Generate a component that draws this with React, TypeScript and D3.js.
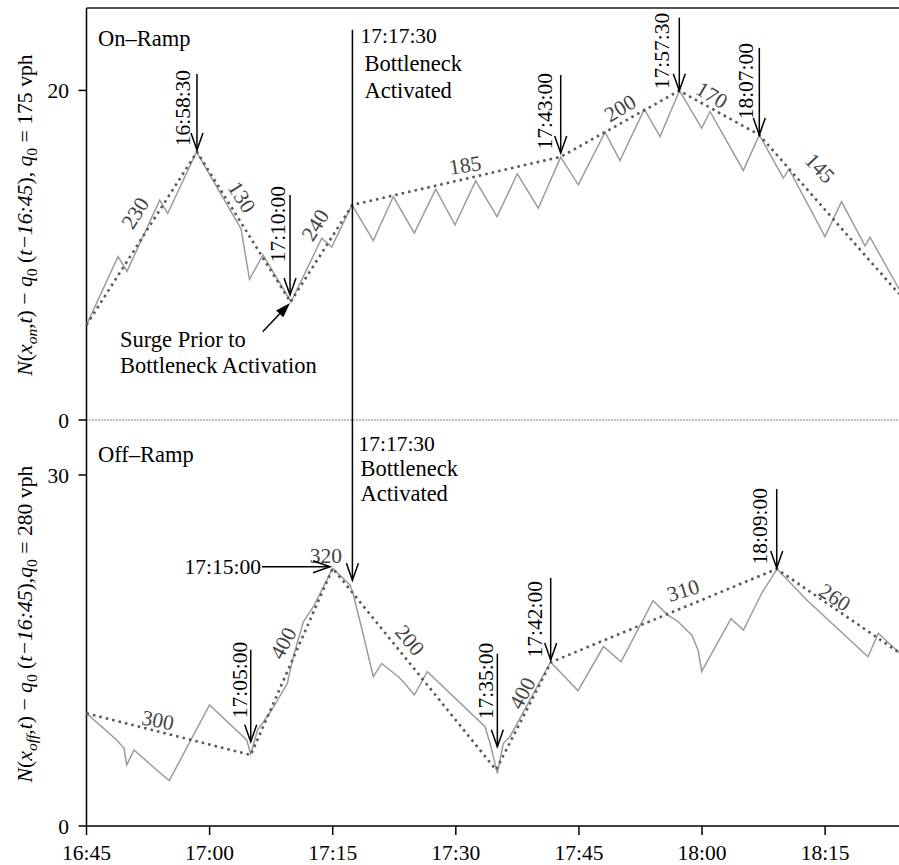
import React, { useEffect } from "react";
import * as d3 from "d3";

// ---------- data (time in minutes after 16:45, values in vehicles) ----------
const timeTicks = [0, 15, 30, 45, 60, 75, 90];
const timeTickLabels = ["16:45", "17:00", "17:15", "17:30", "17:45", "18:00", "18:15"];
const onRampTicks = [0, 20];
const offRampTicks = [0, 30];

const onRampObsT = [0, 3.84, 4.93, 8.92, 9.89, 13.4, 18.83, 19.86, 21.5, 24.92, 28.66, 29.88, 32.35, 34.95, 37.38, 39.94, 42.55, 44.9, 47.42, 50.02, 52.49, 55.05, 57.78, 59.92, 63.18, 65.0, 67.97, 69.88, 72.25, 74.96, 75.97, 80.03, 81.98, 84.9, 85.6, 89.98, 92.0, 94.86, 95.47, 99];
const onRampObsN = [5.77, 9.92, 9.02, 13.34, 12.53, 16.27, 11.6, 8.54, 10.02, 7.16, 11.03, 10.49, 13.05, 10.89, 13.56, 11.34, 14.01, 11.84, 14.51, 12.34, 14.94, 12.85, 15.95, 14.27, 17.47, 15.74, 18.86, 17.2, 19.98, 17.71, 18.72, 15.14, 17.3, 14.68, 15.22, 11.13, 13.25, 10.56, 11.09, 7.95];
const onRampFitT = [0, 13.46, 24.85, 32.4, 57.78, 72.23, 81.98, 99];
const onRampFitN = [5.77, 16.27, 7.16, 13.05, 15.97, 19.98, 17.3, 7.65];

const offRampObsT = [0, 3.68, 4.57, 4.9, 5.79, 8.55, 10.09, 14.99, 19.52, 20.01, 20.84, 22.57, 24.47, 25.2, 26.42, 27.64, 30.0, 32.1, 32.47, 33.53, 34.95, 35.97, 37.99, 38.6, 39.94, 41.53, 48.56, 49.17, 50.06, 50.79, 51.6, 56.54, 59.89, 62.99, 65.13, 69.03, 70.85, 72.11, 73.78, 74.51, 74.96, 78.53, 80.05, 82.27, 84.14, 87.76, 95.22, 96.48, 99];
const offRampObsN = [9.63, 7.35, 6.64, 5.21, 6.5, 4.79, 3.89, 10.34, 7.35, 6.15, 8.2, 9.91, 12.2, 14.47, 17.46, 18.74, 22.03, 20.6, 19.89, 16.9, 12.76, 13.89, 12.76, 12.33, 11.2, 13.19, 8.49, 7.07, 4.5, 7.07, 7.63, 14.02, 11.56, 15.34, 14.04, 19.25, 18.03, 17.46, 16.28, 15.04, 13.21, 17.72, 16.75, 19.89, 21.97, 19.32, 14.47, 16.47, 14.83];
const offRampFitT = [0, 20.01, 30.0, 49.9, 56.6, 84.1, 99];
const offRampFitN = [9.63, 6.07, 22.03, 4.8, 14.0, 21.97, 14.83];

// slope (flow) labels
const onRampRates = ["230", "130", "240", "185", "200", "170", "145"];
const onRampRateT = [5.91, 18.95, 27.84, 46.12, 65.01, 76.22, 89.38];
const onRampRateN = [12.57, 13.54, 11.84, 15.48, 18.94, 19.73, 15.3];
const offRampRates = ["300", "400", "320", "200", "400", "310", "260"];
const offRampRateT = [8.71, 23.94, 29.18, 39.42, 53.06, 72.69, 91.2];
const offRampRateN = [9.06, 15.64, 23.16, 15.9, 11.37, 20.17, 19.57];

// arrow annotations
const onRampArrowLabels = ["16:58:30", "17:10:00", "17:43:00", "17:57:30", "18:07:00"];
const onRampArrowT = [13.46, 24.8, 57.78, 72.23, 81.98];
const onRampArrowTipN = [16.39, 7.59, 16.2, 19.98, 17.3];
const offRampArrowLabels = ["17:05:00", "17:35:00", "17:42:00", "18:09:00"];
const offRampArrowT = [20.01, 50.06, 56.56, 84.1];
const offRampArrowTipN = [7.2, 6.78, 14.19, 22.05];

const activationT = 32.4; // 17:17:30
const activationTopN = 23.68;
const activationTipN = 21.0;
const surgeFromT = 21.47, surgeFromN = 5.36, surgeToT = 24.8, surgeToN = 7.1;
const peakArrowFromT = 21.38, peakArrowToT = 29.67, peakArrowN = 22.16;

// ---------- layout / style ----------
const W = 899, H = 865;
const L = 86.5, R = 899, TOP = 8, MID = 420, BOT = 826;
const FONT = "'Liberation Serif', 'Times New Roman', Times, serif";
const FS = 21.5; // numbers
const FW = 22.5; // words
const FT = 21.7; // axis titles
const onRampRateAngle = [-58, 58, -58, -9, -31, 31, 46];
const offRampRateAngle = [11, -62, 0, 50, -62, -17, 33];
const onArrowLen = [76, 100, 78, 73, 87];
const onArrowDx = [-7, -5, -9, -10, -6];
const onArrowGap = [4, 9, 2, 5, 5];
const offArrowLen = [92, 93, 82, 79];
const offArrowDx = [-4, -4, -9, -10];
const offArrowGap = [8, 11, -3, 1];

const x = d3.scaleLinear().domain([0, 99]).range([L, R]);
const yOn = d3.scaleLinear().domain([0, 25]).range([MID, TOP]);
const yOff = d3.scaleLinear().domain([0, 30]).range([BOT, 475]);

function Arrow({ x1, y1, x2, y2, filled = false }: { x1: number; y1: number; x2: number; y2: number; filled?: boolean }) {
  const ang = Math.atan2(y2 - y1, x2 - x1);
  const len = filled ? 15 : 17;
  const w = filled ? 5 : 6;
  const bx = x2 - len * Math.cos(ang), by = y2 - len * Math.sin(ang);
  const px = -Math.sin(ang) * w, py = Math.cos(ang) * w;
  return (
    <g>
      <line x1={x1} y1={y1} x2={filled ? bx : x2} y2={filled ? by : y2} stroke="#000" strokeWidth={1.5} />
      {filled ? (
        <path d={`M${bx + px},${by + py}L${x2},${y2}L${bx - px},${by - py}Z`} fill="#000" />
      ) : (
        <path d={`M${bx + px},${by + py}L${x2},${y2}L${bx - px},${by - py}`} fill="none" stroke="#000" strokeWidth={1.5} />
      )}
    </g>
  );
}

function lineOf(ts: number[], ns: number[], y: d3.ScaleLinear<number, number>) {
  const pts = ts.map((t, i) => [t, ns[i]] as [number, number]);
  return d3.line<[number, number]>().x((d) => x(d[0])).y((d) => y(d[1]))(pts) || "";
}

function Title({ cx, cy, sub, q }: { cx: number; cy: number; sub: string; q: string }) {
  const s = 15.5;
  return (
    <text transform={`translate(${cx},${cy}) rotate(-90)`} textAnchor="middle" fontFamily={FONT} fontSize={FT} fill="#000">
      <tspan fontStyle="italic">N</tspan>(<tspan fontStyle="italic">x</tspan>
      <tspan fontStyle="italic" fontSize={s} dy={5}>{sub}</tspan>
      <tspan dy={-5}>,</tspan><tspan fontStyle="italic">t</tspan>) − <tspan fontStyle="italic">q</tspan>
      <tspan fontSize={s} dy={5}>0</tspan>
      <tspan dy={-5}> (</tspan><tspan fontStyle="italic">t−16:45</tspan>),{sub === "on" ? " " : ""}<tspan fontStyle="italic">q</tspan>
      <tspan fontSize={s} dy={5}>0</tspan>
      <tspan dy={-5}> = {q} vph</tspan>
    </text>
  );
}

export default function App() {
  useEffect(() => {
    document.body.style.margin = "0";
  }, []);

  const ax = x(activationT);

  return (
    <svg width={W} height={H} style={{ display: "block", background: "#fff" }} fontFamily={FONT}>
      <rect x={0} y={0} width={W} height={H} fill="#fff" />
      {/* frame */}
      <line x1={L} y1={TOP} x2={R} y2={TOP} stroke="#555" strokeWidth={2} />
      <line x1={L} y1={TOP} x2={L} y2={BOT} stroke="#000" strokeWidth={1.5} />
      <line x1={L} y1={BOT} x2={R} y2={BOT} stroke="#000" strokeWidth={1.5} />
      <line x1={L} y1={MID} x2={R} y2={MID} stroke="#000" strokeWidth={1} strokeDasharray="1 2" />

      {/* y ticks */}
      {onRampTicks.map((v) => (
        <g key={"on" + v}>
          <line x1={L - 8} x2={L} y1={yOn(v)} y2={yOn(v)} stroke="#000" strokeWidth={1.5} />
          <text x={69} y={yOn(v)} dy="0.35em" textAnchor="end" fontSize={FS}>{v}</text>
        </g>
      ))}
      {offRampTicks.map((v) => (
        <g key={"off" + v}>
          <line x1={L - 8} x2={L} y1={yOff(v)} y2={yOff(v)} stroke="#000" strokeWidth={1.5} />
          <text x={69} y={yOff(v)} dy="0.35em" textAnchor="end" fontSize={FS}>{v}</text>
        </g>
      ))}
      {/* x ticks */}
      {timeTicks.map((t, i) => (
        <g key={"t" + t}>
          <line x1={x(t)} x2={x(t)} y1={BOT} y2={BOT + 9} stroke="#000" strokeWidth={1.5} />
          <text x={x(t)} y={860} textAnchor="middle" fontSize={FS}>{timeTickLabels[i]}</text>
        </g>
      ))}

      <Title cx={32} cy={215} sub="on" q="175" />
      <Title cx={32} cy={624} sub="off" q="280" />

      {/* series */}
      <path d={lineOf(onRampObsT, onRampObsN, yOn)} fill="none" stroke="#9c9c9c" strokeWidth={1.5} />
      <path d={lineOf(offRampObsT, offRampObsN, yOff)} fill="none" stroke="#9c9c9c" strokeWidth={1.5} />
      <path d={lineOf(onRampFitT, onRampFitN, yOn)} fill="none" stroke="#5a5a5a" strokeWidth={2.6} strokeDasharray="2.6 4" />
      <path d={lineOf(offRampFitT, offRampFitN, yOff)} fill="none" stroke="#5a5a5a" strokeWidth={2.6} strokeDasharray="2.6 4" />

      {/* rate labels */}
      {onRampRates.map((r, i) => (
        <text key={"ro" + i} transform={`translate(${x(onRampRateT[i])},${yOn(onRampRateN[i])}) rotate(${onRampRateAngle[i]})`}
          textAnchor="middle" dy="0.35em" fontSize={FS} fill="#444">{r}</text>
      ))}
      {offRampRates.map((r, i) => (
        <text key={"rf" + i} transform={`translate(${x(offRampRateT[i])},${yOff(offRampRateN[i])}) rotate(${offRampRateAngle[i]})`}
          textAnchor="middle" dy="0.35em" fontSize={FS} fill="#444">{r}</text>
      ))}

      {/* panel names */}
      <text x={98} y={46} fontSize={FW}>On–Ramp</text>
      <text x={98} y={462} fontSize={FW}>Off–Ramp</text>

      {/* vertical time arrows */}
      {onRampArrowLabels.map((lab, i) => {
        const ax2 = x(onRampArrowT[i]);
        const tip = yOn(onRampArrowTipN[i]);
        const top = tip - onArrowLen[i];
        return (
          <g key={"ao" + i}>
            <Arrow x1={ax2} y1={top} x2={ax2} y2={tip} />
            <text transform={`translate(${ax2 + onArrowDx[i]},${top - onArrowGap[i]}) rotate(-90)`} textAnchor="end" fontSize={FS}>{lab}</text>
          </g>
        );
      })}
      {offRampArrowLabels.map((lab, i) => {
        const ax2 = x(offRampArrowT[i]);
        const tip = yOff(offRampArrowTipN[i]);
        const top = tip - offArrowLen[i];
        return (
          <g key={"af" + i}>
            <Arrow x1={ax2} y1={top} x2={ax2} y2={tip} />
            <text transform={`translate(${ax2 + offArrowDx[i]},${top - offArrowGap[i]}) rotate(-90)`} textAnchor="end" fontSize={FS}>{lab}</text>
          </g>
        );
      })}

      {/* bottleneck activation */}
      <Arrow x1={ax} y1={yOn(activationTopN)} x2={ax} y2={yOff(activationTipN)} />
      <text x={ax + 8} y={43} fontSize={FS}>17:17:30</text>
      <text x={ax + 12} y={71} fontSize={FW}>Bottleneck</text>
      <text x={ax + 12} y={98} fontSize={FW}>Activated</text>
      <text x={ax + 6} y={451} fontSize={FS}>17:17:30</text>
      <text x={ax + 8} y={476} fontSize={FW}>Bottleneck</text>
      <text x={ax + 8} y={501} fontSize={FW}>Activated</text>

      {/* surge */}
      <Arrow x1={x(surgeFromT)} y1={yOn(surgeFromN)} x2={x(surgeToT)} y2={yOn(surgeToN)} filled />
      <text x={120} y={347} fontSize={FW}>Surge Prior to</text>
      <text x={120} y={373} fontSize={FW}>Bottleneck Activation</text>

      {/* 17:15:00 */}
      <Arrow x1={x(peakArrowFromT)} y1={yOff(peakArrowN)} x2={x(peakArrowToT)} y2={yOff(peakArrowN)} />
      <text x={x(peakArrowFromT) - 1} y={yOff(peakArrowN)} dy="0.35em" textAnchor="end" fontSize={FS}>17:15:00</text>
    </svg>
  );
}
